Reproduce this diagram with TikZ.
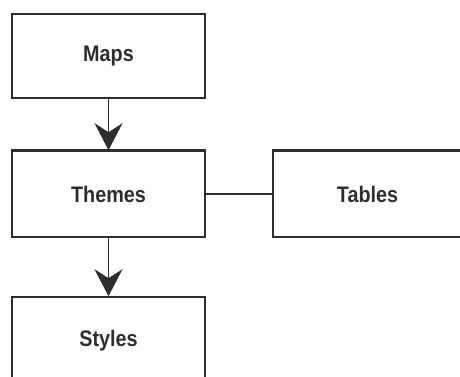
\documentclass[tikz,border=0pt]{standalone}
\usepackage{fontspec}
\setmainfont{Liberation Sans}[FakeStretch=0.88]
\usetikzlibrary{arrows.meta}
\definecolor{ink}{HTML}{2E2E2E}
\tikzset{
  box/.style={draw=ink, line width=1.6pt, rectangle, minimum width=193pt,
    text=ink, font=\fontsize{22.5}{26}\selectfont\bfseries, inner sep=0pt},
  topedge/.style={draw=ink, line width=3pt},
  flow/.style={draw=ink, line width=1.5pt,
    -{Stealth[length=27pt, width=28pt, inset=9pt]}},
  link/.style={draw=ink, line width=1.4pt}
}
\begin{document}
\begin{tikzpicture}[x=1pt, y=-1pt]
  \useasboundingbox (0,0) rectangle (460,376);
  \clip (0,0) rectangle (460,376);
  \fill[white] (0,0) rectangle (460,376);

  \node[box, minimum height=84pt] (maps)   at (108.5,56)  {\raisebox{-1.5pt}{Maps}};
  \node[box, minimum height=86pt] (themes) at (108.5,194) {Themes};
  \node[box, minimum height=86pt, minimum width=189pt] (tables) at (367.5,194) {Tables};
  \node[box, minimum height=88pt] (styles) at (108.5,341) {\raisebox{-1.5pt}{Styles}};

  % heavier top rule on the middle row
  \draw[topedge] (themes.north west) -- (themes.north east);
  \draw[topedge] (tables.north west) -- (tables.north east);

  \draw[flow] (maps) -- (themes);
  \draw[flow] (themes) -- (styles);
  \draw[link] (themes) -- (tables);
\end{tikzpicture}
\end{document}
